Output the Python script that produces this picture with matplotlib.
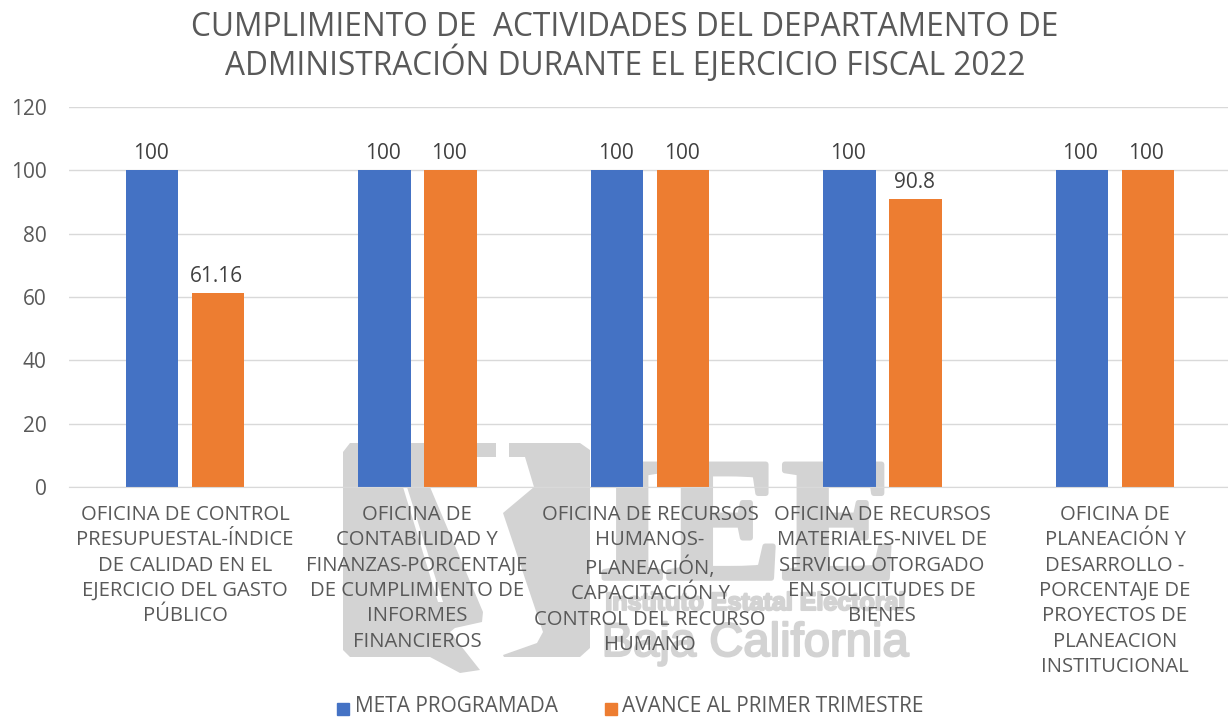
import matplotlib
matplotlib.use("Agg")
import matplotlib.pyplot as plt
import matplotlib.patheffects as pe
from matplotlib.patches import Polygon, Rectangle

plt.rcParams['font.family'] = ['Open Sans', 'DejaVu Sans']

categories = [
    "OFICINA DE CONTROL\nPRESUPUESTAL-ÍNDICE\nDE CALIDAD EN EL\nEJERCICIO DEL GASTO\nPÚBLICO",
    "OFICINA DE\nCONTABILIDAD Y\nFINANZAS-PORCENTAJE\nDE CUMPLIMIENTO DE\nINFORMES\nFINANCIEROS",
    "OFICINA DE RECURSOS\nHUMANOS-\nPLANEACIÓN,\nCAPACITACIÓN Y\nCONTROL DEL RECURSO\nHUMANO",
    "OFICINA DE RECURSOS\nMATERIALES-NIVEL DE\nSERVICIO OTORGADO\nEN SOLICITUDES DE\nBIENES",
    "OFICINA DE\nPLANEACIÓN Y\nDESARROLLO -\nPORCENTAJE DE\nPROYECTOS DE\nPLANEACION\nINSTITUCIONAL",
]
meta = [100, 100, 100, 100, 100]
avance = [61.16, 100, 100, 90.8, 100]
meta_labels = ["100", "100", "100", "100", "100"]
avance_labels = ["61.16", "100", "100", "90.8", "100"]
yticks = [0, 20, 40, 60, 80, 100, 120]

W, H = 1228, 717
GRAY = '#595959'
MARK = '#D3D3D3'
fig = plt.figure(figsize=(W / 100, H / 100), dpi=100, facecolor='white')

# watermark layer, in pixel coordinates of the picture
bg = fig.add_axes([0, 0, 1, 1], zorder=0)
bg.set_xlim(0, W)
bg.set_ylim(H, 0)
bg.axis('off')
bg.add_patch(Polygon([(343, 452), (350, 443), (496, 443), (496, 457), (477, 457), (430, 487),
                      (483, 612), (482, 622), (455, 628), (450, 632), (480, 670), (460, 673),
                      (430, 657), (350, 657), (343, 650)], color=MARK, lw=0))
bg.add_patch(Polygon([(403, 487), (407, 487), (443, 602), (438, 602)], color='white', lw=0))
bg.add_patch(Polygon([(509, 443), (580, 443), (590, 450), (590, 648), (580, 657), (504, 657),
                      (503, 655), (537, 643), (543, 632), (503, 513), (534, 487), (525, 457),
                      (509, 457)], color=MARK, lw=0))
bg.text(748, 578, "IEE", family='Liberation Serif', fontweight='bold', fontsize=125,
        color=MARK, ha='center', va='baseline',
        path_effects=[pe.withStroke(linewidth=4, foreground=MARK)])
bg.text(755, 603, "Instituto Estatal Electoral", family='Liberation Sans', fontweight='bold', fontsize=18,
        color=MARK, ha='center', va='center',
        path_effects=[pe.withStroke(linewidth=1.5, foreground=MARK)])
bg.text(755, 644, "Baja California", family='Liberation Sans', fontsize=34,
        color=MARK, ha='center', va='center',
        path_effects=[pe.withStroke(linewidth=1.5, foreground=MARK)])

ax = fig.add_axes([69 / W, 1 - 487 / H, 1162 / W, (487 - 107) / H], zorder=1)
ax.patch.set_alpha(0)

n = len(categories)
bar_w = 0.226
offset = 0.142
for i in range(n):
    ax.bar(i - offset, meta[i], bar_w, color='#4472C4')
    ax.bar(i + offset, avance[i], bar_w, color='#ED7D31')
    ax.text(i - offset - 0.006, meta[i] + 2.1, meta_labels[i], ha='center', va='bottom', fontsize=15, color='#404040')
    ax.text(i + offset - 0.006, avance[i] + 2.1, avance_labels[i], ha='center', va='bottom', fontsize=15, color='#404040')

ax.set_xlim(-0.5, n - 0.5)
ax.set_ylim(0, 120)
ax.set_yticks(yticks)
ax.set_xticks(range(n))
ax.set_xticklabels([])
ax.tick_params(axis='both', length=0)
ax.tick_params(axis='y', labelsize=15, labelcolor=GRAY, pad=16)
ax.grid(axis='y', color='#D9D9D9', linewidth=1)
ax.set_axisbelow(True)
for s in ['top', 'right', 'left']:
    ax.spines[s].set_visible(False)
ax.spines['bottom'].set_color('#D9D9D9')

label_x = [185, 417, 650, 882, 1115]
for x, label in zip(label_x, categories):
    fig.text(x / W, 1 - 505 / H, label, ha='center', va='top', fontsize=14.6,
             color=GRAY, linespacing=1.355, zorder=5)

fig.text(625 / W, 1 - 47 / H,
         "CUMPLIMIENTO DE  ACTIVIDADES DEL DEPARTAMENTO DE\nADMINISTRACIÓN DURANTE EL EJERCICIO FISCAL 2022",
         ha='center', va='center', fontsize=22.8, color=GRAY, linespacing=1.08)

# legend
fig.patches.append(Rectangle((337 / W, 1 - 715 / H), 12 / W, 12 / H, transform=fig.transFigure, color='#4472C4'))
fig.patches.append(Rectangle((605 / W, 1 - 715 / H), 12 / W, 12 / H, transform=fig.transFigure, color='#ED7D31'))
fig.text(355 / W, 1 - 706.5 / H, "META PROGRAMADA", ha='left', va='center', fontsize=15, color=GRAY)
fig.text(622 / W, 1 - 706.5 / H, "AVANCE AL PRIMER TRIMESTRE", ha='left', va='center', fontsize=15, color=GRAY)

fig.savefig('out.png', dpi=100, facecolor='white')
